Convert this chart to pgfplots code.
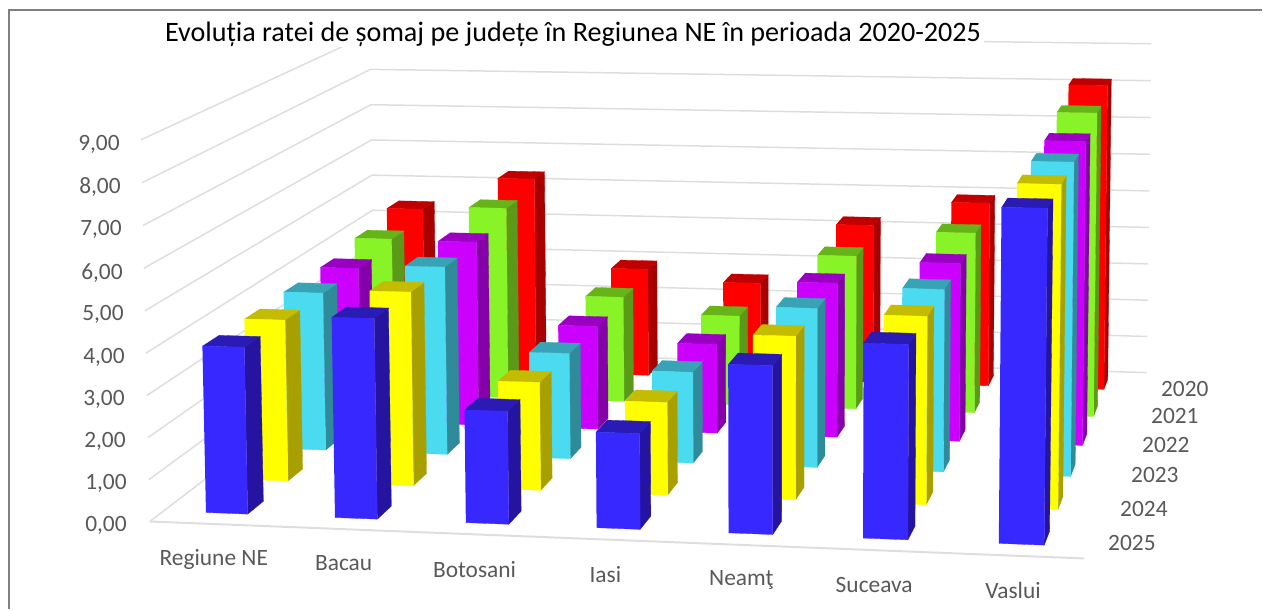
\documentclass[border=0pt]{standalone}
\usepackage{pgfplots}
\pgfplotsset{compat=1.18}
\usepackage{fontspec}
\setmainfont{Carlito}
\definecolor{bF}{HTML}{3728FF}\definecolor{bS}{HTML}{24149F}\definecolor{bT}{HTML}{2A1BB5}
\definecolor{yF}{HTML}{FFFF00}\definecolor{yS}{HTML}{A8A000}\definecolor{yT}{HTML}{C4BC00}
\definecolor{cF}{HTML}{4BDBF0}\definecolor{cS}{HTML}{2F8A9A}\definecolor{cT}{HTML}{38A3B4}
\definecolor{pF}{HTML}{CC00FF}\definecolor{pS}{HTML}{8400A8}\definecolor{pT}{HTML}{9A00C2}
\definecolor{gF}{HTML}{88F428}\definecolor{gS}{HTML}{5A9A18}\definecolor{gT}{HTML}{66B418}
\definecolor{rF}{HTML}{FF0000}\definecolor{rS}{HTML}{A80000}\definecolor{rT}{HTML}{C00000}
\definecolor{gridc}{HTML}{DEDEDE}
\definecolor{lab}{HTML}{595959}
\newcommand\face[5]{\addplot[fill=#1,draw=#1,line width=0.3pt] coordinates {#2 #3 #4 #5};}
\newcommand\pt[3]{({pu(#1,#2,#3)},{pv(#1,#2,#3)})}
% \bbar{category position}{row, 0=2025 ... 5=2020}{value}{colour prefix}
\newcommand\bbar[4]{%
 \face{#4S}{\pt{#1+0.665}{#2+0.31}{0}}{\pt{#1+0.665}{#2+0.69}{0}}{\pt{#1+0.665}{#2+0.69}{#3}}{\pt{#1+0.665}{#2+0.31}{#3}}
 \face{#4T}{\pt{#1+0.335}{#2+0.31}{#3}}{\pt{#1+0.665}{#2+0.31}{#3}}{\pt{#1+0.665}{#2+0.69}{#3}}{\pt{#1+0.335}{#2+0.69}{#3}}
 \face{#4F}{\pt{#1+0.335}{#2+0.31}{0}}{\pt{#1+0.665}{#2+0.31}{0}}{\pt{#1+0.665}{#2+0.31}{#3}}{\pt{#1+0.335}{#2+0.31}{#3}}
}
% one series: row, colour prefix, then the seven values
\newcommand\series[9]{\bbar{0}{#1}{#3}{#2}\bbar{1.015}{#1}{#4}{#2}\bbar{2.03}{#1}{#5}{#2}\bbar{3.03}{#1}{#6}{#2}\bbar{4.025}{#1}{#7}{#2}\bbar{5.025}{#1}{#8}{#2}\bbar{6.02}{#1}{#9}{#2}}
\newcommand\gridv[1]{\addplot[color=gridc,line width=1.5pt] coordinates {\pt{0}{0}{#1} \pt{0}{6}{#1} \pt{7}{6}{#1}};}
\newcommand\vlab[3]{\node[anchor=east,text=lab,inner sep=0pt,font=\fontsize{23.5}{26}\selectfont] at (axis cs:#2,#3) {#1,00};}
\newcommand\clab[3]{\node[anchor=center,text=lab,inner sep=0pt,font=\fontsize{23.5}{26}\selectfont] at (axis cs:#2,#3) {#1};}
\begin{document}
\begin{tikzpicture}
\begin{axis}[
  scale only axis,width=1263bp,height=610bp,
  xmin=0,xmax=1263,ymin=0,ymax=610,y dir=reverse,
  hide axis,clip=false,
  declare function={
    pu(\x,\y,\v)=(882*\x/7+305.1*\y/6-11*\v/9+150)/(-0.04886*\x/7+0.21356*\y/6-0.014*\v/9+1);
    pv(\x,\y,\v)=(9.7*\x/7-97.3*\y/6-384*\v/9+522)/(-0.04886*\x/7+0.21356*\y/6-0.014*\v/9+1);
  },
]
\path (axis cs:0,0) rectangle (axis cs:1263,610);
% frame
\addplot[color=black!50,line width=2.5pt] coordinates {(9,610) (9,10) (1263,10)};
% walls
\gridv{0}\gridv{1}\gridv{2}\gridv{3}\gridv{4}\gridv{5}\gridv{6}\gridv{7}\gridv{8}\gridv{9}
\addplot[color=gridc,line width=2pt] coordinates {\pt{0}{0}{0} \pt{7}{0}{0}};
% Regiune NE, Bacau, Botosani, Iasi, Neamt, Suceava, Vaslui
\series{5}{r}{4.46}{5.36}{2.94}{2.63}{4.29}{4.96}{8.17}% 2020
\series{4}{g}{4.21}{5.11}{2.80}{2.38}{4.05}{4.73}{7.91}% 2021
\series{3}{p}{4.03}{4.79}{2.68}{2.30}{3.96}{4.54}{7.68}% 2022
\series{2}{c}{4.01}{4.75}{2.66}{2.28}{3.96}{4.51}{7.68}% 2023
\series{1}{y}{3.98}{4.75}{2.64}{2.25}{3.94}{4.50}{7.68}% 2024
\series{0}{b}{3.99}{4.76}{2.67}{2.25}{3.93}{4.51}{7.68}% 2025
% title
\node[fill=white,inner xsep=3pt,inner ysep=1pt,anchor=west,text=black,font=\fontsize{28.25}{32}\selectfont] at (axis cs:162,34) {Evoluția ratei de șomaj pe județe în Regiunea NE în perioada 2020-2025};
% value labels
\vlab{9}{120}{145}\vlab{8}{121}{187}\vlab{7}{122}{230}\vlab{6}{123}{273}\vlab{5}{124}{315}
\vlab{4}{125}{358}\vlab{3}{125}{400}\vlab{2}{126}{442}\vlab{1}{127}{484}\vlab{0}{127}{526}
\clab{Regiune NE}{214}{560}\clab{Bacau}{344}{564}\clab{Botosani}{475}{570}\clab{Iasi}{606}{575}
\clab{Neamţ}{742}{581}\clab{Suceava}{875}{586}\clab{Vaslui}{1014}{591}
\clab{2020}{1186}{389}\clab{2021}{1176}{416}\clab{2022}{1167}{445}\clab{2023}{1156}{475}\clab{2024}{1145}{509}\clab{2025}{1133}{544}
\end{axis}
\end{tikzpicture}
\end{document}
